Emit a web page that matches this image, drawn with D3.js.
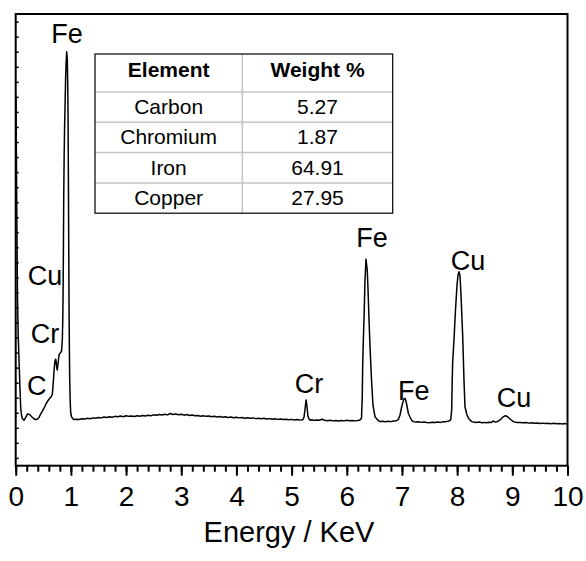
<!DOCTYPE html>
<html>
<head>
<meta charset="utf-8">
<script src="https://cdn.jsdelivr.net/npm/d3@7"></script>
<style>
  body { margin: 0; background: #fff; }
  text { font-family: "Liberation Sans", Arial, sans-serif; fill: #000; }
</style>
</head>
<body>
<script>
// EDS spectrum (energy in keV, intensity in arbitrary units)
const energy = [
  0.005,0.012,0.018,0.026,0.033,0.045,0.06,0.075,0.091,0.105,0.12,0.15,0.17,0.19,0.215,0.241,0.27,0.295,0.33,0.36,
  0.391,0.42,0.45,0.485,0.513,0.545,0.573,0.6,0.622,0.645,0.663,0.675,0.685,0.695,0.705,0.715,0.725,0.735,0.745,0.754,
  0.763,0.772,0.785,0.8,0.815,0.83,0.845,0.852,0.858,0.864,0.87,0.878,0.886,0.893,0.903,0.912,0.924,0.935,0.942,0.948,
  0.953,0.957,0.962,0.966,0.972,0.979,0.988,0.997,1.01,1.03,1.057,
  1.1,1.15,1.2,1.25,1.3,1.35,1.4,1.45,1.5,1.55,1.6,1.65,1.7,1.75,1.8,1.85,1.9,1.95,2.0,2.05,2.1,2.15,2.2,2.25,2.3,2.35,
  2.4,2.45,2.5,2.55,2.6,2.65,2.7,2.75,2.8,2.85,2.9,2.95,3.0,3.05,3.1,3.15,3.2,3.25,3.3,3.35,3.4,3.45,3.5,3.55,3.6,3.65,
  3.7,3.75,3.8,3.85,3.9,3.95,4.0,4.05,4.1,4.15,4.2,4.25,4.3,4.35,4.4,4.45,4.5,4.55,4.6,4.65,4.7,4.75,4.8,4.85,4.9,4.95,
  5.0,5.05,5.1,5.15,5.2,
  5.225,5.245,5.262,5.278,5.295,5.315,5.34,5.37,5.4,5.45,5.5,5.55,5.6,5.65,5.7,5.75,5.8,5.85,5.9,5.95,6.0,6.05,6.1,6.15,6.2,6.24,
  6.267,6.28,6.289,6.3,6.312,6.33,6.348,6.361,6.372,6.385,6.403,6.421,6.448,6.475,6.511,6.557,6.602,6.65,6.7,6.75,6.8,6.85,6.9,
  6.934,6.965,6.995,7.019,7.037,7.055,7.073,7.091,7.115,7.146,7.175,7.205,7.25,7.3,7.35,7.4,7.45,7.5,7.55,7.6,7.65,7.7,7.75,7.8,7.85,7.883,
  7.901,7.91,7.919,7.943,7.97,7.998,8.016,8.034,8.052,8.07,8.085,8.101,8.124,8.142,8.178,8.215,8.264,8.3,8.35,8.4,8.45,8.5,8.536,8.58,8.62,8.656,8.69,8.72,8.75,
  8.777,8.8,8.831,8.86,8.886,8.91,8.94,8.98,9.018,9.06,9.1,9.139,9.2,9.25,9.3,9.35,9.4,9.45,9.5,9.55,9.6,9.65,9.7,9.75,9.8,9.85,9.9,9.95,9.985
];
const counts = [
  24.1,20.5,17.2,13.5,10.5,8.2,6.5,4.9,3.3,2.85,2.62,2.5,2.62,2.75,2.92,2.9,2.82,2.72,2.6,2.55,
  2.57,2.68,2.9,3.12,3.3,3.55,3.74,3.88,3.98,4.08,4.2,4.7,5.2,5.8,6.2,6.5,6.56,6.35,5.95,5.84,
  6.15,6.4,6.84,6.95,7.0,7.1,7.84,9.0,10.5,13.5,17.2,20.0,22.0,23.1,25.0,26.1,27.0,26.5,25.0,23.1,
  20.0,17.2,13.5,10.5,7.5,5.2,3.7,3.0,2.75,2.62,2.55,
  2.57,2.55,2.6,2.58,2.63,2.6,2.66,2.63,2.69,2.66,2.72,2.68,2.74,2.7,2.76,2.73,2.78,2.74,2.8,2.76,2.79,2.75,2.8,2.77,2.82,2.79,
  2.84,2.8,2.86,2.83,2.88,2.85,2.9,2.86,2.95,2.88,2.92,2.87,2.9,2.84,2.88,2.82,2.85,2.8,2.82,2.77,2.8,2.76,2.79,2.74,2.77,2.72,
  2.75,2.7,2.73,2.69,2.72,2.67,2.7,2.66,2.69,2.64,2.67,2.63,2.66,2.61,2.64,2.6,2.63,2.58,2.61,2.57,2.6,2.56,2.59,2.55,2.57,2.53,
  2.56,2.52,2.55,2.51,2.53,
  2.7,3.3,3.85,3.45,2.8,2.58,2.5,2.54,2.49,2.52,2.5,2.57,2.5,2.47,2.5,2.46,2.49,2.45,2.48,2.46,2.5,2.47,2.49,2.46,2.48,2.52,
  2.65,4.0,6.3,7.8,9.2,11.8,13.2,12.8,12.4,11.2,9.2,7.4,5.2,3.5,2.74,2.52,2.41,2.44,2.4,2.43,2.41,2.45,2.47,
  2.55,2.85,3.4,3.72,3.92,3.96,3.78,3.45,2.97,2.72,2.5,2.41,2.38,2.4,2.36,2.39,2.35,2.34,2.37,2.35,2.38,2.36,2.4,2.41,2.45,2.52,
  3.18,5.0,6.4,7.84,9.83,11.5,12.16,12.38,12.09,10.83,9.5,8.06,5.18,3.4,2.85,2.59,2.41,2.38,2.36,2.38,2.34,2.36,2.33,2.37,2.36,2.45,2.38,2.4,2.46,
  2.52,2.6,2.72,2.78,2.8,2.74,2.65,2.52,2.41,2.37,2.36,2.35,2.33,2.35,2.31,2.34,2.3,2.32,2.29,2.31,2.28,2.3,2.27,2.3,2.27,2.29,2.26,2.28,2.25
];

// peak annotations
const peakLabels = ["Fe","Cu","Cr","C","Cr","Fe","Fe","Cu","Cu"];
const peakEnergy = [0.93,0.531,0.531,0.38,5.315,6.457,7.213,8.197,9.03];
const peakCounts = [27.59,11.5,7.64,4.18,4.32,14.04,3.85,12.49,3.4];

// composition table
const elements = ["Carbon","Chromium","Iron","Copper"];
const weights = ["5.27","1.87","64.91","27.95"];
const tableHeader = ["Element","Weight %"];

const xTicks = [0,1,2,3,4,5,6,7,8,9,10];

let width = 586
let height = 561
let margin = {left: 15.7, right: 18.5, top: 14, bottom: 95.3};

let svg = d3.select("body")
    .append("svg")
    .attr("width", width)
    .attr("height", height)

let xScale = d3.scaleLinear()
    .domain([0, 10])
    .range([margin.left, width - margin.right]);

let yScale = d3.scaleLinear()
    .domain([-0.52, 29.51])
    .range([height - margin.bottom, margin.top]);

let plotBottom = height - margin.bottom;

// spectrum line
let line = d3.line()
    .x(function(d, i) { return xScale(energy[i]); })
    .y(function(d) { return yScale(d); });

svg.append("path")
    .datum(counts)
    .attr("d", line)
    .attr("fill", "none")
    .attr("stroke", "#000")
    .attr("stroke-width", 1.5)
    .attr("stroke-linejoin", "round");

// y axis: inward ticks, no labels
svg.append("g")
    .attr("transform", "translate(" + margin.left + ",0)")
    .call(d3.axisLeft(yScale).ticks(30).tickSize(-3).tickFormat(""))
    .call(g => g.select(".domain").remove())
    .selectAll("line").attr("stroke-width", 1.5);

// x axis minor ticks
svg.append("g")
    .attr("transform", "translate(0," + plotBottom + ")")
    .call(d3.axisBottom(xScale).tickValues(d3.range(0, 10.01, 0.2)).tickSize(6).tickFormat(""))
    .call(g => g.select(".domain").remove())
    .selectAll("line").attr("stroke-width", 2);

// x axis major ticks + labels
let xAxis = svg.append("g")
    .attr("transform", "translate(0," + plotBottom + ")")
    .call(d3.axisBottom(xScale).tickValues(xTicks).tickSize(10).tickPadding(10).tickFormat(d3.format("d")));
xAxis.select(".domain").remove();
xAxis.selectAll("line").attr("stroke-width", 2);
xAxis.selectAll("text")
    .style("font-size", "28px")
    .style("font-family", "'Liberation Sans', Arial, sans-serif")
    .attr("fill", "#000");

// frame
svg.append("rect")
    .attr("x", margin.left)
    .attr("y", margin.top)
    .attr("width", width - margin.left - margin.right)
    .attr("height", height - margin.top - margin.bottom)
    .attr("fill", "none")
    .attr("stroke", "#000")
    .attr("stroke-width", 2);

// axis title
svg.append("text")
    .attr("x", 289)
    .attr("y", 542)
    .attr("text-anchor", "middle")
    .style("font-size", "29px")
    .text("Energy / KeV");

// peak labels
svg.selectAll(".peakLabel")
    .data(peakLabels)
    .enter()
    .append("text")
    .attr("class", "peakLabel")
    .attr("x", function(d, i) { return xScale(peakEnergy[i]); })
    .attr("y", function(d, i) { return yScale(peakCounts[i]); })
    .attr("text-anchor", "middle")
    .style("font-size", "27px")
    .text(function(d) { return d; });

// table
let table = {x: 95, y: 54, colSplit: 242.3, right: 392.7, headH: 38, rowH: 30.3};
let tg = svg.append("g");

let rowTops = elements.map(function(d, i) { return table.y + table.headH + i * table.rowH; });
let tableBottom = table.y + table.headH + elements.length * table.rowH;

tg.append("rect")
    .attr("x", table.x).attr("y", table.y)
    .attr("width", table.right - table.x)
    .attr("height", tableBottom - table.y)
    .attr("fill", "#fff");

tg.selectAll(".rowLine")
    .data(rowTops)
    .enter()
    .append("line")
    .attr("x1", table.x).attr("x2", table.right)
    .attr("y1", function(d) { return d; }).attr("y2", function(d) { return d; })
    .attr("stroke", "#c4c4c4")
    .attr("stroke-width", 1.5);

tg.append("line")
    .attr("x1", table.colSplit).attr("x2", table.colSplit)
    .attr("y1", table.y).attr("y2", tableBottom)
    .attr("stroke", "#c4c4c4")
    .attr("stroke-width", 1.5);

tg.append("rect")
    .attr("x", table.x).attr("y", table.y)
    .attr("width", table.right - table.x)
    .attr("height", tableBottom - table.y)
    .attr("fill", "none")
    .attr("stroke", "#000")
    .attr("stroke-width", 1.2);

let col1 = (table.x + table.colSplit) / 2;
let col2 = (table.colSplit + table.right) / 2;

tg.selectAll(".head")
    .data(tableHeader)
    .enter()
    .append("text")
    .attr("x", function(d, i) { return i === 0 ? col1 : col2; })
    .attr("y", table.y + 22.5)
    .attr("text-anchor", "middle")
    .style("font-size", "21px")
    .style("font-weight", "bold")
    .text(function(d) { return d; });

tg.selectAll(".elem")
    .data(elements)
    .enter()
    .append("text")
    .attr("x", col1)
    .attr("y", function(d, i) { return rowTops[i] + 22; })
    .attr("text-anchor", "middle")
    .style("font-size", "21px")
    .text(function(d) { return d; });

tg.selectAll(".wt")
    .data(weights)
    .enter()
    .append("text")
    .attr("x", col2)
    .attr("y", function(d, i) { return rowTops[i] + 22; })
    .attr("text-anchor", "middle")
    .style("font-size", "21px")
    .text(function(d) { return d; });
</script>
</body>
</html>
